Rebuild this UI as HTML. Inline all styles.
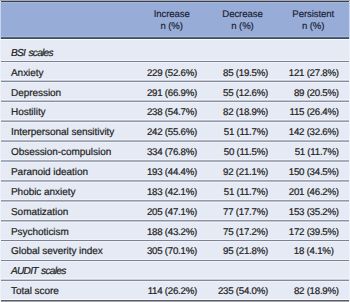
<!DOCTYPE html>
<html><head><meta charset="utf-8">
<style>
html,body{margin:0;padding:0;width:350px;height:302px;overflow:hidden;background:#f2f4f9;}
body{text-rendering:geometricPrecision;font-family:"Liberation Sans",sans-serif;font-size:10.0px;color:#222;position:relative;-webkit-text-stroke:0.2px #222;}
div{position:absolute;}
.r{left:1px;width:348px;height:1px;}
.t{white-space:nowrap;line-height:12px;}
.h{text-align:center;width:90px;letter-spacing:-0.1px;font-size:9.6px;color:#1a2035;-webkit-text-stroke:0.15px #1a2035;}
.n{text-align:right;letter-spacing:-0.25px;font-size:9.7px;}
.l{letter-spacing:-0.05px;}
.i{font-style:italic;letter-spacing:-0.7px;font-size:10.1px;word-spacing:1.2px;}
</style></head><body>

<div style="left:0px;top:0px;width:350px;height:1px;background:#a9a9b1"></div>
<div style="left:1px;top:1px;width:348px;height:1px;background:#3a4152"></div>
<div style="left:1px;top:2px;width:348px;height:1px;background:#a3b6dc"></div>
<div style="left:1px;top:3px;width:348px;height:33px;background:#97acd6"></div>
<div style="left:1px;top:36px;width:348px;height:1px;background:#a6badf"></div>
<div style="left:1px;top:37px;width:348px;height:1px;background:#56637c"></div>
<div style="left:1px;top:38px;width:348px;height:1px;background:#444f66"></div>
<div style="left:1px;top:39px;width:348px;height:1px;background:#f7f9fc"></div>
<div style="left:1px;top:40px;width:348px;height:259px;background:#e5eaf4"></div>
<div style="left:1px;top:60px;width:348px;height:1px;background:#eff2f9"></div>
<div style="left:1px;top:61px;width:348px;height:1px;background:#7c8292"></div>
<div style="left:1px;top:62px;width:348px;height:1px;background:#eff2f9"></div>
<div style="left:1px;top:79px;width:348px;height:1px;background:#eff2f9"></div>
<div style="left:1px;top:80px;width:348px;height:1px;background:#c8cdd9"></div>
<div style="left:1px;top:81px;width:348px;height:1px;background:#848a9a"></div>
<div style="left:1px;top:82px;width:348px;height:1px;background:#eff2f9"></div>
<div style="left:1px;top:99px;width:348px;height:1px;background:#eff2f9"></div>
<div style="left:1px;top:100px;width:348px;height:1px;background:#bfc5d1"></div>
<div style="left:1px;top:101px;width:348px;height:1px;background:#8d93a2"></div>
<div style="left:1px;top:102px;width:348px;height:1px;background:#eff2f9"></div>
<div style="left:1px;top:119px;width:348px;height:1px;background:#eff2f9"></div>
<div style="left:1px;top:120px;width:348px;height:1px;background:#b7bcc9"></div>
<div style="left:1px;top:121px;width:348px;height:1px;background:#959baa"></div>
<div style="left:1px;top:122px;width:348px;height:1px;background:#eff2f9"></div>
<div style="left:1px;top:139px;width:348px;height:1px;background:#eff2f9"></div>
<div style="left:1px;top:140px;width:348px;height:1px;background:#aeb4c1"></div>
<div style="left:1px;top:141px;width:348px;height:1px;background:#9ea3b1"></div>
<div style="left:1px;top:142px;width:348px;height:1px;background:#eff2f9"></div>
<div style="left:1px;top:159px;width:348px;height:1px;background:#eff2f9"></div>
<div style="left:1px;top:160px;width:348px;height:1px;background:#a6acb9"></div>
<div style="left:1px;top:161px;width:348px;height:1px;background:#a6acb9"></div>
<div style="left:1px;top:162px;width:348px;height:1px;background:#eff2f9"></div>
<div style="left:1px;top:179px;width:348px;height:1px;background:#eff2f9"></div>
<div style="left:1px;top:180px;width:348px;height:1px;background:#9ea3b1"></div>
<div style="left:1px;top:181px;width:348px;height:1px;background:#aeb4c1"></div>
<div style="left:1px;top:182px;width:348px;height:1px;background:#eff2f9"></div>
<div style="left:1px;top:199px;width:348px;height:1px;background:#eff2f9"></div>
<div style="left:1px;top:200px;width:348px;height:1px;background:#959baa"></div>
<div style="left:1px;top:201px;width:348px;height:1px;background:#b7bcc9"></div>
<div style="left:1px;top:202px;width:348px;height:1px;background:#eff2f9"></div>
<div style="left:1px;top:219px;width:348px;height:1px;background:#eff2f9"></div>
<div style="left:1px;top:220px;width:348px;height:1px;background:#8d93a2"></div>
<div style="left:1px;top:221px;width:348px;height:1px;background:#bfc5d1"></div>
<div style="left:1px;top:222px;width:348px;height:1px;background:#eff2f9"></div>
<div style="left:1px;top:239px;width:348px;height:1px;background:#eff2f9"></div>
<div style="left:1px;top:240px;width:348px;height:1px;background:#7c8292"></div>
<div style="left:1px;top:241px;width:348px;height:1px;background:#eff2f9"></div>
<div style="left:1px;top:259px;width:348px;height:1px;background:#eff2f9"></div>
<div style="left:1px;top:260px;width:348px;height:1px;background:#7c8292"></div>
<div style="left:1px;top:261px;width:348px;height:1px;background:#eff2f9"></div>
<div style="left:1px;top:278px;width:348px;height:1px;background:#eff2f9"></div>
<div style="left:1px;top:279px;width:348px;height:1px;background:#c8cdd9"></div>
<div style="left:1px;top:280px;width:348px;height:1px;background:#848a9a"></div>
<div style="left:1px;top:281px;width:348px;height:1px;background:#eff2f9"></div>
<div style="left:1px;top:299px;width:348px;height:1px;background:#f7f9fc"></div>
<div style="left:1px;top:300px;width:348px;height:1px;background:#5a5a62"></div>
<div style="left:0px;top:2px;width:1px;height:37px;background:#c8d4ec"></div>
<div style="left:349px;top:2px;width:1px;height:37px;background:#ccd7ee"></div>
<div style="left:0px;top:40px;width:1px;height:259px;background:#eef1f8"></div>
<div style="left:349px;top:40px;width:1px;height:259px;background:#eef1f8"></div>
<div style="left:1px;top:301px;width:348px;height:1px;background:#a4a4ac"></div>
<div class="t h" style="left:126.70px;top:9px">Increase</div>
<div class="t h" style="left:126.70px;top:21px">n (%)</div>
<div class="t h" style="left:197.50px;top:9px">Decrease</div>
<div class="t h" style="left:197.50px;top:21px">n (%)</div>
<div class="t h" style="left:268.20px;top:9px">Persistent</div>
<div class="t h" style="left:268.20px;top:21px">n (%)</div>
<div class="t i" style="left:11px;top:47.85px">BSI scales</div>
<div class="t l" style="left:11px;top:67.70px">Anxiety</div>
<div class="t n" style="right:153.00px;top:67.70px">229 (52.6%)</div>
<div class="t n" style="right:82.00px;top:67.70px">85 (19.5%)</div>
<div class="t n" style="right:11.20px;top:67.70px">121 (27.8%)</div>
<div class="t l" style="left:11px;top:87.55px">Depression</div>
<div class="t n" style="right:153.00px;top:87.55px">291 (66.9%)</div>
<div class="t n" style="right:82.00px;top:87.55px">55 (12.6%)</div>
<div class="t n" style="right:11.20px;top:87.55px">89 (20.5%)</div>
<div class="t l" style="left:11px;top:107.40px">Hostility</div>
<div class="t n" style="right:153.00px;top:107.40px">238 (54.7%)</div>
<div class="t n" style="right:82.00px;top:107.40px">82 (18.9%)</div>
<div class="t n" style="right:11.20px;top:107.40px">115 (26.4%)</div>
<div class="t l" style="left:11px;top:127.25px">Interpersonal sensitivity</div>
<div class="t n" style="right:153.00px;top:127.25px">242 (55.6%)</div>
<div class="t n" style="right:82.00px;top:127.25px">51 (11.7%)</div>
<div class="t n" style="right:11.20px;top:127.25px">142 (32.6%)</div>
<div class="t l" style="left:11px;top:147.10px">Obsession-compulsion</div>
<div class="t n" style="right:153.00px;top:147.10px">334 (76.8%)</div>
<div class="t n" style="right:82.00px;top:147.10px">50 (11.5%)</div>
<div class="t n" style="right:11.20px;top:147.10px">51 (11.7%)</div>
<div class="t l" style="left:11px;top:166.95px">Paranoid ideation</div>
<div class="t n" style="right:153.00px;top:166.95px">193 (44.4%)</div>
<div class="t n" style="right:82.00px;top:166.95px">92 (21.1%)</div>
<div class="t n" style="right:11.20px;top:166.95px">150 (34.5%)</div>
<div class="t l" style="left:11px;top:186.80px">Phobic anxiety</div>
<div class="t n" style="right:153.00px;top:186.80px">183 (42.1%)</div>
<div class="t n" style="right:82.00px;top:186.80px">51 (11.7%)</div>
<div class="t n" style="right:11.20px;top:186.80px">201 (46.2%)</div>
<div class="t l" style="left:11px;top:206.65px">Somatization</div>
<div class="t n" style="right:153.00px;top:206.65px">205 (47.1%)</div>
<div class="t n" style="right:82.00px;top:206.65px">77 (17.7%)</div>
<div class="t n" style="right:11.20px;top:206.65px">153 (35.2%)</div>
<div class="t l" style="left:11px;top:226.50px">Psychoticism</div>
<div class="t n" style="right:153.00px;top:226.50px">188 (43.2%)</div>
<div class="t n" style="right:82.00px;top:226.50px">75 (17.2%)</div>
<div class="t n" style="right:11.20px;top:226.50px">172 (39.5%)</div>
<div class="t l" style="left:11px;top:246.35px">Global severity index</div>
<div class="t n" style="right:153.00px;top:246.35px">305 (70.1%)</div>
<div class="t n" style="right:82.00px;top:246.35px">95 (21.8%)</div>
<div class="t n" style="right:16.40px;top:246.35px">18 (4.1%)</div>
<div class="t i" style="left:11px;top:266.20px">AUDIT scales</div>
<div class="t l" style="left:11px;top:286.05px">Total score</div>
<div class="t n" style="right:153.00px;top:286.05px">114 (26.2%)</div>
<div class="t n" style="right:82.00px;top:286.05px">235 (54.0%)</div>
<div class="t n" style="right:11.20px;top:286.05px">82 (18.9%)</div>
</body></html>
